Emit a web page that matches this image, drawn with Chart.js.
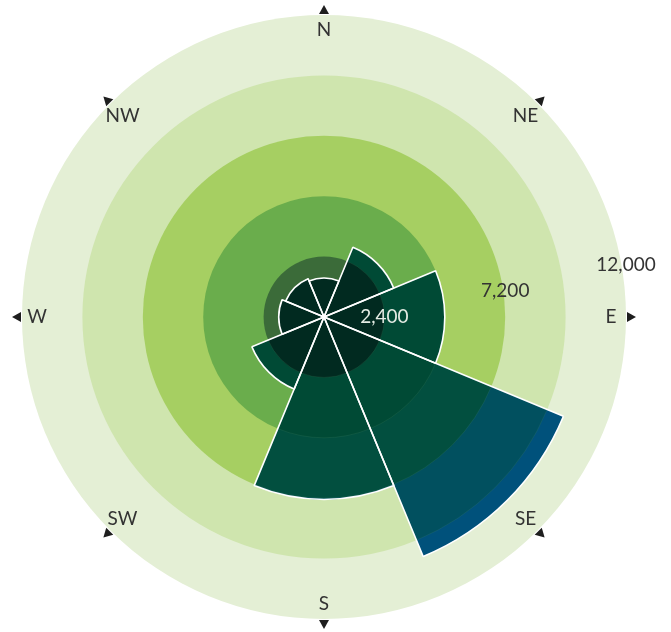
<!DOCTYPE html>
<html lang="en">
<head>
  <meta charset="UTF-8" />
  <title>Wind rose</title>
  <script src="https://cdn.jsdelivr.net/npm/chart.js"></script>
  <style>
    html, body { margin: 0; padding: 0; background: #fff; }
    .wrap { width: 671px; height: 632px; position: relative; }
  </style>
</head>
<body>
  <div class="wrap">
    <canvas id="rose" width="671" height="632"></canvas>
  </div>
  <script>
    // compass sectors, clockwise from north
    const directions = ['N', 'NE', 'E', 'SE', 'S', 'SW', 'W', 'NW'];
    const totals = [1550, 3000, 4800, 10300, 7250, 3100, 1800, 1650];

    // radial bands of the scale
    const ringValues = [2400, 4800, 7200, 9600, 12000];
    const tickValues = [2400, 7200, 12000];
    const tickLabels = ['2,400', '7,200', '12,000'];

    const ringColors = ['#3b6b39', '#6aad4c', '#a6cf62', '#cfe5ae', '#e4efd5'];
    const wedgeColors = ['#012a20', '#004a35', '#024f3f', '#01505f', '#00517b'];

    // one dataset per band, the wedge clipped to the band top; index 0 is drawn last
    const datasets = [{
      data: totals,
      backgroundColor: 'rgba(0,0,0,0)',
      borderColor: '#ffffff',
      borderWidth: 1.6
    }];
    ringValues.forEach((top, k) => {
      datasets.push({
        data: totals.map(v => Math.min(v, top)),
        backgroundColor: wedgeColors[k],
        borderColor: 'rgba(160,200,140,0.18)',
        borderWidth: 0.5
      });
    });

    const ringsPlugin = {
      id: 'rings',
      beforeDatasetsDraw(chart) {
        const r = chart.scales.r;
        const ctx = chart.ctx;
        ctx.save();
        for (let i = ringValues.length - 1; i >= 0; i--) {
          ctx.beginPath();
          ctx.arc(r.xCenter, r.yCenter, r.getDistanceFromCenterForValue(ringValues[i]), 0, Math.PI * 2);
          ctx.fillStyle = ringColors[i];
          ctx.fill();
        }
        ctx.restore();
      }
    };

    const labelsPlugin = {
      id: 'compassLabels',
      afterDatasetsDraw(chart) {
        const r = chart.scales.r;
        const ctx = chart.ctx;
        ctx.save();
        ctx.font = '19px Lato, "DejaVu Sans", sans-serif';
        ctx.textAlign = 'center';
        ctx.textBaseline = 'middle';
        const half = Math.PI / directions.length;

        directions.forEach((d, i) => {
          const diag = i % 2 === 1;
          const p = r.getPointPosition(i, r.drawingArea - (diag ? 17 : 15), half);
          ctx.fillStyle = '#333333';
          ctx.fillText(d, p.x, p.y);

          // little arrow head pointing outwards
          const t = r.getPointPosition(i, r.drawingArea + 5, half);
          ctx.save();
          ctx.translate(t.x, t.y);
          ctx.rotate(t.angle + Math.PI / 2);
          ctx.beginPath();
          ctx.moveTo(0, -5);
          ctx.lineTo(5, 4);
          ctx.lineTo(-5, 4);
          ctx.closePath();
          ctx.fillStyle = '#1e1e1e';
          ctx.fill();
          ctx.restore();
        });

        // value labels, drifting upward as they move out
        const base = r.getDistanceFromCenterForValue(tickValues[0]);
        tickValues.forEach((v, i) => {
          const dist = r.getDistanceFromCenterForValue(v);
          ctx.fillStyle = i === 0 ? '#e4ece4' : '#333333';
          ctx.fillText(tickLabels[i], r.xCenter + dist, r.yCenter - 0.215 * (dist - base));
        });
        ctx.restore();
      }
    };

    new Chart(document.getElementById('rose'), {
      type: 'polarArea',
      data: { labels: directions, datasets },
      options: {
        responsive: false,
        animation: false,
        layout: { padding: { left: 22, right: 45, top: 15, bottom: 13 } },
        plugins: { legend: { display: false }, tooltip: { enabled: false } },
        scales: {
          r: {
            min: 0,
            max: 12000,
            startAngle: -22.5,
            ticks: { display: false, stepSize: 2400 },
            grid: { display: false },
            angleLines: { display: false },
            pointLabels: { display: false }
          }
        }
      },
      plugins: [ringsPlugin, labelsPlugin]
    });
  </script>
</body>
</html>
